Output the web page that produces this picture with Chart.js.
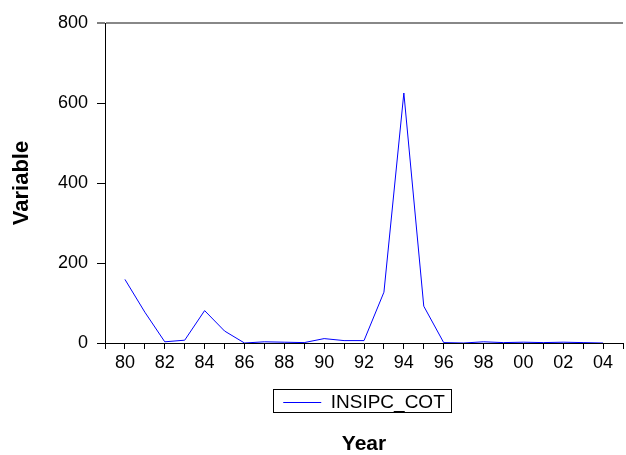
<!DOCTYPE html>
<html>
<head>
<meta charset="utf-8">
<script src="https://cdn.jsdelivr.net/npm/chart.js"></script>
<style>
  body { margin: 0; background: #fff; }
  #wrap { width: 626px; height: 455px; }
</style>
</head>
<body>
<div id="wrap"><canvas id="myChart"></canvas></div>
<script>
// data
const years = [1980, 1981, 1982, 1983, 1984, 1985, 1986, 1987, 1988, 1989, 1990, 1991, 1992,
               1993, 1994, 1995, 1996, 1997, 1998, 1999, 2000, 2001, 2002, 2003, 2004];
const insipcCot = [159, 77, 3, 7, 81, 30, 0, 3, 2, 1, 11, 6, 6,
                   127, 625, 92, 1, 0, 3, 1, 2, 1, 2, 1, 0];
const seriesLabel = 'INSIPC_COT';
const yTicks = [0, 200, 400, 600, 800];

Chart.defaults.font.family = "'Liberation Sans', Arial, sans-serif";
Chart.defaults.color = '#000';

// box round the legend, like the original
const legendBorder = {
  id: 'legendBorder',
  afterDraw(chart) {
    const hb = chart.legend.legendHitBoxes[0];
    if (!hb) return;
    const ctx = chart.ctx;
    ctx.save();
    ctx.strokeStyle = '#000';
    ctx.lineWidth = 1;
    ctx.strokeRect(Math.round(hb.left - 10) + 0.5, Math.round(hb.top - 4) + 0.5, Math.round(hb.width + 16), 23);
    ctx.restore();
  }
};

const points = years.map((y, i) => ({ x: y, y: insipcCot[i] }));

const ctx = document.getElementById('myChart').getContext('2d');
const myChart = new Chart(ctx, {
  type: 'line',
  data: {
    datasets: [{
      label: seriesLabel,
      data: points,
      borderColor: '#0000ff',
      backgroundColor: '#0000ff',
      borderWidth: 1,
      pointRadius: 0,
      tension: 0,
      fill: false
    }]
  },
  plugins: [legendBorder],
  options: {
    responsive: true,
    maintainAspectRatio: false,
    animation: false,
    layout: { padding: { top: 23, left: 0, right: 0, bottom: 0 } },
    plugins: {
      tooltip: { enabled: false },
      legend: {
        position: 'bottom',
        fullSize: false,
        labels: {
          font: { size: 19 },
          usePointStyle: true,
          pointStyle: 'line',
          pointStyleWidth: 38,
          padding: 10
        }
      },
      title: {
        display: true,
        text: 'Year',
        position: 'bottom',
        fullSize: false,
        font: { size: 21, weight: 'bold', lineHeight: 1 },
        padding: { top: 12, bottom: 0 }
      }
    },
    scales: {
      x: {
        type: 'linear',
        min: 1979,
        max: 2005,
        afterFit: (scale) => { scale.height = 40; },
        ticks: {
          stepSize: 1,
          autoSkip: false,
          maxTicksLimit: 100,
          maxRotation: 0,
          padding: 3,
          font: { size: 18 },
          callback: (v) => (v % 2 === 0 && v >= years[0] && v <= years[years.length - 1]) ? String(v).slice(2) : ''
        },
        grid: {
          drawOnChartArea: false,
          color: '#000',
          tickColor: '#000',
          tickLength: 6,
          tickWidth: 1
        },
        border: { display: true, color: '#000', width: 1 }
      },
      y: {
        min: yTicks[0],
        max: yTicks[yTicks.length - 1],
        afterFit: (scale) => { scale.width = 105; },
        ticks: {
          stepSize: 200,
          padding: 9,
          font: { size: 18 }
        },
        title: {
          display: true,
          text: 'Variable',
          font: { size: 22, weight: 'bold' },
          padding: { top: 9, bottom: 0 }
        },
        grid: {
          color: (c) => c.tick && c.tick.value === 800 ? '#888888' : 'rgba(0,0,0,0)',
          lineWidth: (c) => c.tick && c.tick.value === 800 ? 2 : 1,
          tickColor: '#000',
          tickWidth: 1,
          tickLength: 8
        },
        border: { display: true, color: '#000', width: 1 }
      }
    }
  }
});
</script>
</body>
</html>
